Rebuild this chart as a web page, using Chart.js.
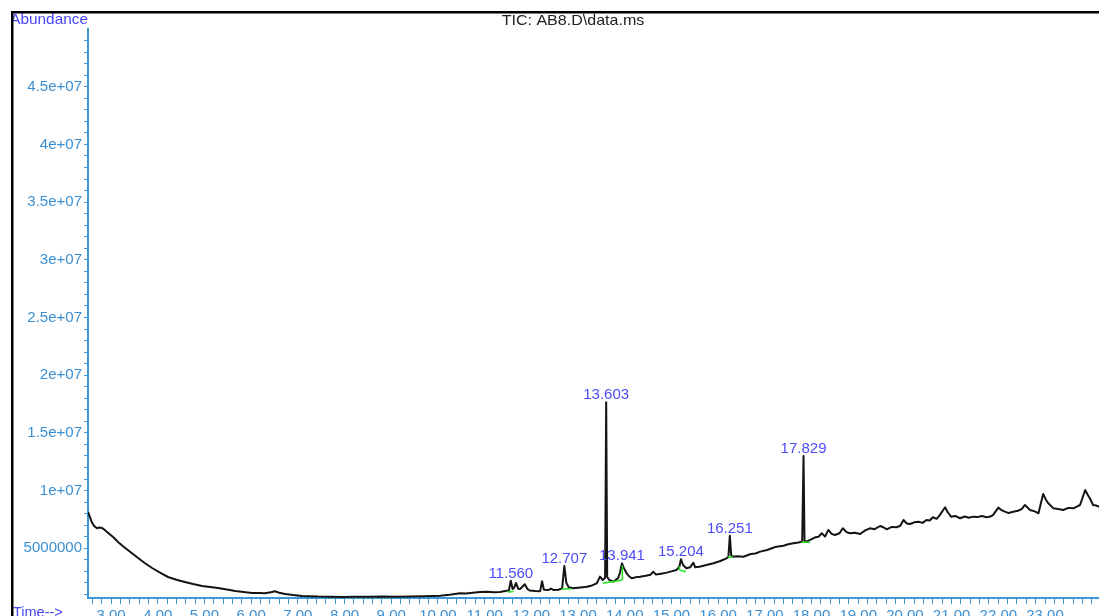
<!DOCTYPE html>
<html>
<head>
<meta charset="utf-8">
<title>TIC: AB8.D\data.ms</title>
<script src="https://cdn.jsdelivr.net/npm/chart.js@4.4.1/dist/chart.umd.min.js"></script>
<style>
  html, body { margin: 0; padding: 0; background: #fff; overflow: hidden; }
  #wrap { position: absolute; left: 0; top: 0; width: 1099px; height: 640px; }
</style>
</head>
<body>
<div id="wrap"><canvas id="tic" width="1099" height="640"></canvas></div>
<script>
// total ion chromatogram, retention time (min) vs abundance (counts)
const retentionTime = [
  2.507, 2.55, 2.59, 2.64, 2.70, 2.75, 2.81, 2.86, 2.94, 3.05,
  3.15, 3.25, 3.36, 3.47, 3.58, 3.72, 3.88, 4.05, 4.22, 4.40,
  4.58, 4.76, 4.95, 5.12, 5.29, 5.48, 5.66, 5.84, 6.02, 6.18,
  6.30, 6.42, 6.51, 6.60, 6.73, 6.90, 7.09, 7.25, 7.43, 7.70,
  7.95, 8.20, 8.50, 8.80, 9.10, 9.40, 9.70, 10.05, 10.25, 10.47,
  10.60, 10.75, 10.90, 11.05, 11.20, 11.33, 11.44, 11.52, 11.56, 11.60,
  11.635, 11.67, 11.72, 11.76, 11.86, 11.92, 11.97, 12.08, 12.19, 12.23,
  12.27, 12.36, 12.42, 12.48, 12.58, 12.66, 12.707, 12.75, 12.80, 12.90,
  13.05, 13.19, 13.30, 13.40, 13.47, 13.53, 13.58, 13.603, 13.625, 13.67,
  13.76, 13.86, 13.90, 13.941, 13.98, 14.04, 14.10, 14.15, 14.25, 14.33,
  14.45, 14.55, 14.61, 14.67, 14.78, 14.90, 15.00, 15.11, 15.17, 15.204,
  15.25, 15.32, 15.40, 15.47, 15.51, 15.60, 15.75, 15.90, 16.05, 16.18,
  16.22, 16.251, 16.28, 16.31, 16.42, 16.54, 16.70, 16.80, 16.90, 17.05,
  17.15, 17.25, 17.40, 17.50, 17.61, 17.72, 17.80, 17.829, 17.85, 17.89,
  17.97, 18.08, 18.15, 18.22, 18.29, 18.36, 18.43, 18.50, 18.60, 18.67,
  18.75, 18.82, 18.93, 19.04, 19.15, 19.25, 19.35, 19.47, 19.55, 19.61,
  19.72, 19.82, 19.90, 19.97, 20.04, 20.11, 20.20, 20.29, 20.38, 20.46,
  20.53, 20.60, 20.68, 20.75, 20.86, 20.92, 20.99, 21.08, 21.18, 21.28,
  21.37, 21.46, 21.55, 21.65, 21.75, 21.83, 21.89, 22.00, 22.07, 22.14,
  22.22, 22.32, 22.42, 22.50, 22.57, 22.62, 22.68, 22.78, 22.86, 22.96,
  23.02, 23.07, 23.18, 23.28, 23.39, 23.50, 23.61, 23.68, 23.75, 23.86,
  23.92, 23.96, 24.03, 24.10, 24.16
];
const abundance = [
  8.15e6, 7.70e6, 7.25e6, 6.92e6, 6.74e6, 6.80e6, 6.76e6, 6.60e6, 6.33e6, 5.95e6,
  5.55e6, 5.20e6, 4.85e6, 4.50e6, 4.16e6, 3.72e6, 3.29e6, 2.88e6, 2.51e6, 2.27e6,
  2.08e6, 1.90e6, 1.73e6, 1.64e6, 1.56e6, 1.42e6, 1.30e6, 1.22e6, 1.13e6, 1.12e6,
  1.10e6, 1.18e6, 1.27e6, 1.15e6, 1.04e6, 0.95e6, 0.87e6, 0.85e6, 0.81e6, 0.80e6,
  0.78e6, 0.80e6, 0.79e6, 0.81e6, 0.80e6, 0.82e6, 0.84e6, 0.89e6, 0.98e6, 1.10e6,
  1.08e6, 1.15e6, 1.20e6, 1.24e6, 1.19e6, 1.21e6, 1.30e6, 1.35e6, 2.19e6, 1.47e6,
  1.60e6, 1.99e6, 1.50e6, 1.47e6, 1.88e6, 1.45e6, 1.33e6, 1.30e6, 1.28e6, 2.15e6,
  1.40e6, 1.38e6, 1.50e6, 1.38e6, 1.40e6, 1.52e6, 3.47e6, 2.00e6, 1.62e6, 1.53e6,
  1.60e6, 1.67e6, 1.78e6, 1.96e6, 2.54e6, 2.25e6, 2.45e6, 17.65e6, 2.50e6, 2.25e6,
  2.11e6, 2.43e6, 2.90e6, 3.70e6, 3.30e6, 2.83e6, 2.55e6, 2.40e6, 2.50e6, 2.54e6,
  2.62e6, 2.70e6, 2.97e6, 2.72e6, 2.80e6, 2.89e6, 3.00e6, 3.12e6, 3.40e6, 4.05e6,
  3.55e6, 3.27e6, 3.35e6, 3.75e6, 3.35e6, 3.40e6, 3.55e6, 3.70e6, 3.90e6, 4.13e6,
  4.25e6, 6.09e6, 4.40e6, 4.27e6, 4.30e6, 4.27e6, 4.50e6, 4.55e6, 4.71e6, 4.85e6,
  5.00e6, 5.14e6, 5.22e6, 5.35e6, 5.43e6, 5.50e6, 5.60e6, 13.0e6, 5.65e6, 5.57e6,
  5.72e6, 5.95e6, 6.00e6, 6.30e6, 6.01e6, 6.59e6, 6.25e6, 6.15e6, 6.30e6, 6.73e6,
  6.40e6, 6.30e6, 6.35e6, 6.24e6, 6.55e6, 6.73e6, 6.65e6, 6.93e6, 6.80e6, 6.64e6,
  6.85e6, 6.82e6, 6.95e6, 7.45e6, 7.15e6, 7.10e6, 7.25e6, 7.30e6, 7.20e6, 7.45e6,
  7.40e6, 7.69e6, 7.55e6, 7.89e6, 8.55e6, 8.10e6, 7.74e6, 7.80e6, 7.60e6, 7.75e6,
  7.65e6, 7.74e6, 7.70e6, 7.80e6, 7.69e6, 7.75e6, 7.89e6, 8.52e6, 8.30e6, 8.17e6,
  8.05e6, 8.17e6, 8.25e6, 8.40e6, 8.75e6, 8.55e6, 8.32e6, 8.20e6, 8.03e6, 9.71e6,
  9.20e6, 8.90e6, 8.46e6, 8.40e6, 8.32e6, 8.50e6, 8.46e6, 8.60e6, 8.75e6, 10.05e6,
  9.60e6, 9.33e6, 8.75e6, 8.70e6, 8.60e6
];

// integrated peaks (labelled with their retention time)
const peakTimes = [11.56, 12.707, 13.603, 13.941, 15.204, 16.251, 17.829];

// integration baselines under the peaks
const baseStartTime  = [11.49, 12.65, 13.53, 15.17, 16.21, 17.79];
const baseEndTime    = [11.62, 12.86, 13.95, 15.31, 16.32, 17.97];
const baseStartLevel = [1.22e6, 1.47e6, 1.97e6, 3.11e6, 4.27e6, 5.52e6];
const baseEndLevel   = [1.25e6, 1.50e6, 2.25e6, 2.97e6, 4.22e6, 5.52e6];
// drop lines at split peaks
const dropTime   = [13.95, 15.17];
const dropBottom = [2.25e6, 3.11e6];
const dropTop    = [3.50e6, 3.45e6];

// axis ticks
const xLabelTimes = [3, 4, 5, 6, 7, 8, 9, 10, 11, 12, 13, 14, 15, 16, 17, 18, 19, 20, 21, 22, 23];
const xTickLabels = ['3.00', '4.00', '5.00', '6.00', '7.00', '8.00', '9.00', '10.00', '11.00', '12.00', '13.00',
  '14.00', '15.00', '16.00', '17.00', '18.00', '19.00', '20.00', '21.00', '22.00', '23.00'];
const yLabelValues = [5e6, 1e7, 1.5e7, 2e7, 2.5e7, 3e7, 3.5e7, 4e7, 4.5e7];
const yTickLabels = ['5000000', '1e+07', '1.5e+07', '2e+07', '2.5e+07', '3e+07', '3.5e+07', '4e+07', '4.5e+07'];

const axisBlue = '#3d98d8';
const labelBlue = '#3a8fd2';
const peakBlue = '#4c4cf7';
const fontFamily = '"Liberation Sans", Arial, Helvetica, sans-serif';

const traceData = retentionTime.map((t, i) => ({ x: t, y: abundance[i] }));

const baseData = [];
baseStartTime.forEach((t, i) => {
  baseData.push({ x: t, y: baseStartLevel[i] });
  baseData.push({ x: baseEndTime[i], y: baseEndLevel[i] });
  baseData.push({ x: baseEndTime[i], y: null });
});
dropTime.forEach((t, i) => {
  baseData.push({ x: t, y: dropBottom[i] });
  baseData.push({ x: t, y: dropTop[i] });
  baseData.push({ x: t, y: null });
});

// minor ticks: every 0.2 min and every 1e6 counts
const xTicks = [];
for (let k = 13; k <= 120; k++) xTicks.push(+(k * 0.2).toFixed(1));
const yTicks = [];
for (let k = 1; k <= 49; k++) yTicks.push(k * 1e6);

// text drawn a little wider than the font's natural width
function wideText(ctx, text, x, y, sx) {
  ctx.save();
  ctx.translate(x, y);
  ctx.scale(sx, 1);
  ctx.fillText(text, 0, 0);
  ctx.restore();
}

const decorations = {
  id: 'decorations',
  afterDraw(chart) {
    const ctx = chart.ctx;
    const xs = chart.scales.x, ys = chart.scales.y;
    ctx.save();

    // peak labels
    ctx.fillStyle = peakBlue;
    ctx.font = '15px ' + fontFamily;
    ctx.textAlign = 'center';
    ctx.textBaseline = 'alphabetic';
    peakTimes.forEach(t => {
      const i = retentionTime.indexOf(t);
      const px = xs.getPixelForValue(t);
      const py = ys.getPixelForValue(abundance[i]);
      ctx.fillText(t.toFixed(3), px, py - 3);
    });

    // title
    ctx.fillStyle = '#222';
    ctx.font = '15px ' + fontFamily;
    wideText(ctx, 'TIC: AB8.D\\data.ms', 573, 25, 1.07);

    // axis captions
    ctx.fillStyle = '#4646fa';
    ctx.font = '14.5px ' + fontFamily;
    ctx.textAlign = 'right';
    wideText(ctx, 'Abundance', 88, 24, 1.06);
    ctx.textAlign = 'left';
    ctx.textBaseline = 'top';
    ctx.fillText('Time-->', 13, 606);

    // page frame
    ctx.fillStyle = '#fff';
    ctx.fillRect(0, 0, 11, chart.height);
    ctx.fillRect(0, 0, chart.width, 11);
    ctx.fillStyle = '#000';
    ctx.fillRect(11, 11, chart.width - 11, 2.5);
    ctx.fillRect(11, 11, 2.5, chart.height - 11);
    ctx.restore();
  }
};

new Chart(document.getElementById('tic'), {
  type: 'line',
  data: {
    datasets: [
      {
        data: baseData,
        borderColor: '#22e022',
        borderWidth: 1.5,
        pointRadius: 0,
        spanGaps: false,
        order: 0
      },
      {
        data: traceData,
        borderColor: '#141414',
        borderWidth: 2,
        borderJoinStyle: 'round',
        pointRadius: 0,
        tension: 0,
        order: 1
      }
    ]
  },
  options: {
    responsive: false,
    devicePixelRatio: 1,
    animation: false,
    layout: { padding: { top: 29, left: 0, right: 0, bottom: 0 } },
    plugins: { legend: { display: false }, tooltip: { enabled: false } },
    scales: {
      x: {
        type: 'linear',
        min: 2.507,
        max: 24.156,
        afterBuildTicks: s => { s.ticks = xTicks.map(v => ({ value: v })); },
        afterFit: s => { s.height = 42; },
        grid: { drawOnChartArea: false, drawTicks: true, tickLength: 6, color: axisBlue },
        border: { display: true, color: axisBlue, width: 2 },
        ticks: {
          autoSkip: false, maxRotation: 0, padding: 3, color: labelBlue,
          font: { family: fontFamily, size: 15 },
          callback: v => {
            const i = xLabelTimes.findIndex(t => Math.abs(t - v) < 1e-6);
            return i < 0 ? '' : xTickLabels[i];
          }
        }
      },
      y: {
        type: 'linear',
        min: 0.69e6,
        max: 5.0e7,
        afterBuildTicks: s => { s.ticks = yTicks.map(v => ({ value: v })); },
        afterFit: s => { s.width = 88; },
        grid: { drawOnChartArea: false, drawTicks: true, tickLength: 4, color: axisBlue },
        border: { display: true, color: axisBlue, width: 2 },
        ticks: {
          autoSkip: false, padding: 2, color: labelBlue,
          font: { family: fontFamily, size: 15 },
          callback: v => {
            const i = yLabelValues.findIndex(t => Math.abs(t - v) < 1);
            return i < 0 ? '' : yTickLabels[i];
          }
        }
      }
    }
  },
  plugins: [decorations]
});
</script>
</body>
</html>
